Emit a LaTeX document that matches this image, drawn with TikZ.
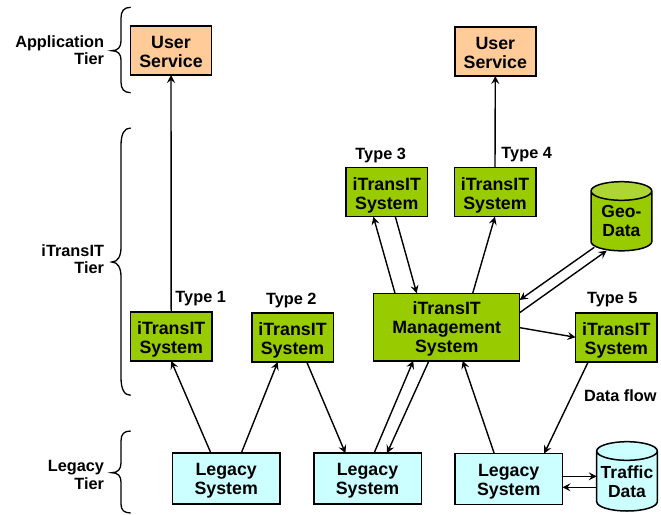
\documentclass[tikz,border=0pt]{standalone}
\usepackage{fontspec}
\setmainfont{Liberation Sans}
\usetikzlibrary{arrows.meta}
\definecolor{grn}{HTML}{99CC00}
\definecolor{grnlt}{HTML}{ADD633}
\definecolor{org}{HTML}{FFCC99}
\definecolor{cyn}{HTML}{CCFFFF}
\newcommand{\tbox}{\rule{0pt}{17pt}}
\newcommand{\tsys}{\rule{0pt}{18.5pt}}
\newcommand{\ebox}{\rule[-2.5pt]{0pt}{2.5pt}}
\newcommand{\tcyl}{\rule{0pt}{24pt}}
\newcommand{\ecyl}{\rule[-2pt]{0pt}{2pt}}
\tikzset{
  bx/.style={draw=black,line width=1.5pt,inner sep=0pt,outer sep=0pt,align=center,
    font=\fontsize{17.8}{18.8}\selectfont\bfseries},
  usr/.style={bx,fill=org,minimum width=81pt,minimum height=49pt},
  sys/.style={bx,fill=grn,minimum width=81.5pt,minimum height=49pt},
  leg/.style={bx,fill=cyn,minimum width=107.5pt,minimum height=51pt},
  cylbox/.style={inner sep=0pt,outer sep=0pt,align=center,
    font=\fontsize{17.5}{19}\selectfont\bfseries},
  lbl/.style={inner sep=0pt,outer sep=0pt,align=center,font=\fontsize{16.3}{17.3}\selectfont\bfseries},
  tier/.style={inner sep=0pt,outer sep=0pt,align=right,anchor=east,font=\fontsize{16.3}{17.3}\selectfont\bfseries},
  arr/.style={draw=black,line width=1.4pt,-{Stealth[length=8pt,width=8pt,inset=3pt]}},
  brc/.style={draw=black,line width=1.3pt},
  cyl/.style={draw=black,line width=1.5pt},
}
\begin{document}
\begin{tikzpicture}[x=1pt,y=-1pt]
\useasboundingbox (0,0) rectangle (661,514);

% cylinders
\fill[grn] (591,191) arc[x radius=30.4,y radius=9.3,start angle=180,end angle=360] -- (651.8,241.5) arc[x radius=30.4,y radius=9.3,start angle=0,end angle=180] -- cycle;
\fill[grnlt] (621.4,191) ellipse[x radius=30.4,y radius=9.3];
\draw[cyl] (591,191) arc[x radius=30.4,y radius=9.3,start angle=180,end angle=-180] (651.8,191) -- (651.8,241.5) arc[x radius=30.4,y radius=9.3,start angle=0,end angle=180] -- (591,191);
\fill[cyn] (596.7,451) arc[x radius=30.3,y radius=9.3,start angle=180,end angle=360] -- (657.3,501.7) arc[x radius=30.3,y radius=9.3,start angle=0,end angle=180] -- cycle;
\draw[cyl] (596.7,451) arc[x radius=30.3,y radius=9.3,start angle=180,end angle=-180] (657.3,451) -- (657.3,501.7) arc[x radius=30.3,y radius=9.3,start angle=0,end angle=180] -- (596.7,451);

% boxes
\node[usr] (us1) at (171,50.5) {\tbox User\\Service\ebox};
\node[usr] (us2) at (495.3,51.5) {\tbox User\\Service\ebox};
\node[sys] (s1) at (171.2,336.5) {\tsys iTransIT\\System\ebox};
\node[sys] (s2) at (292.5,337.5) {\tsys iTransIT\\System\ebox};
\node[sys] (s3) at (386.8,192.2) {\tsys iTransIT\\System\ebox};
\node[sys] (s4) at (495,192.2) {\tsys iTransIT\\System\ebox};
\node[sys] (s5) at (616.3,337.5) {\tsys iTransIT\\System\ebox};
\node[bx,fill=grn,minimum width=146pt,minimum height=67.5pt] (mg) at (446.7,327) {\tbox iTransIT\\Management\\System\rule[-4pt]{0pt}{4pt}};
\node[leg] (l1) at (226.2,478.7) {\tbox Legacy\\System\ebox};
\node[leg] (l2) at (367.5,478.7) {\tbox Legacy\\System\ebox};
\node[leg] (l3) at (508.7,479) {\tbox Legacy\\System\ebox};
\node[cylbox,minimum width=60.8pt,minimum height=69pt] (geo) at (621.4,216.2) {\tcyl Geo-\\Data\ecyl};
\node[cylbox,minimum width=60.6pt,minimum height=69.5pt] (trf) at (627,476.5) {\tcyl Traffic\\Data\ecyl};

% connectors
\draw[arr] (s1.north) -- (us1.south);
\draw[arr] (s4.north) -- (us2.south);
\draw[arr] ([xshift=38.5pt]l1.north west) -- (s1.south);
\draw[arr] ([xshift=68.8pt]l1.north west) -- ([xshift=26pt]s2.south west);
\draw[arr] ([xshift=55pt]s2.south west) -- ([xshift=31.7pt]l2.north west);
\draw[arr] ([xshift=60.3pt]l2.north west) -- ([xshift=39.6pt]mg.south west);
\draw[arr] ([xshift=55.3pt]mg.south west) -- ([xshift=73.3pt]l2.north west);
\draw[arr] ([xshift=39.3pt]l3.north west) -- ([xshift=89pt]mg.south west);
\draw[arr] ([xshift=12.6pt]s5.south west) -- ([xshift=89.3pt]l3.north west);
\draw[arr] ([yshift=2.7pt]l3.east) -- ([yshift=0.2pt]trf.west);
\draw[arr] ([yshift=-10.8pt]trf.west) -- ([yshift=-8.3pt]l3.east);
\draw[arr] ([xshift=21.3pt]mg.north west) -- ([xshift=27.3pt]s3.south west);
\draw[arr] ([xshift=49.3pt]s3.south west) -- ([xshift=43pt]mg.north west);
\draw[arr] ([xshift=99pt]mg.north west) -- ([xshift=40.7pt]s4.south west);
\draw[arr] ([xshift=3.3pt,yshift=3.4pt]geo.south west) -- ([yshift=-6.7pt]mg.north east);
\draw[arr] ([yshift=-19.4pt]mg.north east) -- ([xshift=15.7pt]geo.south west);
\draw[arr] ([yshift=-34.4pt]mg.north east) -- ([yshift=0.2pt]s5.west);

% labels
\node[lbl] (t1) at (200.7,298.7) {Type 1};
\node[lbl] (t2) at (291.3,300) {Type 2};
\node[lbl] (t3) at (380.7,155) {Type 3};
\node[lbl] (t4) at (526.7,155) {Type 4};
\node[lbl] (t5) at (612.3,300) {Type 5};
\node[lbl] (df) at (620.3,396) {Data flow};
\node[tier] (ta) at (104,50) {Application\\Tier};
\node[tier] (ti) at (104,259) {iTransIT\\Tier};
\node[tier] (tl) at (104,475) {Legacy\\Tier};

% braces
\draw[brc] (130.7,7.3) .. controls (124,7.3) and (121,11) .. (121,18) -- (121,41) .. controls (121,47) and (118,50.7) .. (111.7,50.7) .. controls (118,50.7) and (121,54) .. (121,60) -- (121,82) .. controls (121,89) and (124,92.7) .. (130.7,92.7);
\draw[brc] (130.7,128) .. controls (124,128) and (121,134) .. (121,146) -- (121,247) .. controls (121,256) and (118,262) .. (111.7,262) .. controls (118,262) and (121,268) .. (121,277) -- (121,377) .. controls (121,389) and (124,395.3) .. (130.7,395.3);
\draw[brc] (130.7,431) .. controls (124,431) and (121,434) .. (121,441) -- (121,463) .. controls (121,469) and (118,472.7) .. (111.7,472.7) .. controls (118,472.7) and (121,476) .. (121,482) -- (121,504) .. controls (121,510) and (124,513) .. (130.7,513);
\end{tikzpicture}
\end{document}
